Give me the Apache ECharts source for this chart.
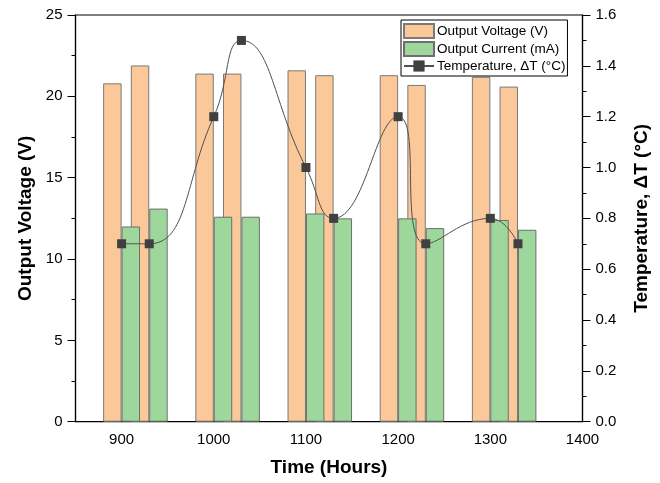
<!DOCTYPE html>
<html>
<head>
  <meta charset="UTF-8" />
  <title>output-vs-time</title>
  <style>
    * { margin: 0; padding: 0; }
    html, body { width: 660px; height: 483px; background: #fff; }
    #chart { width: 660px; height: 483px; }
  </style>
</head>
<body>
  <div id="chart"></div>
  <script src="https://cdn.jsdelivr.net/npm/echarts@6/dist/echarts.min.js"></script>
  <script>
    // values
    var times = [900, 930, 1000, 1030, 1100, 1130, 1200, 1230, 1300, 1330];
    var voltage = [20.8, 21.9, 21.4, 21.4, 21.6, 21.3, 21.3, 20.7, 21.2, 20.6];
    var current = [12.0, 13.1, 12.6, 12.6, 12.8, 12.5, 12.5, 11.9, 12.4, 11.8];
    var temperature = [0.7, 0.7, 1.2, 1.5, 1.0, 0.8, 1.2, 0.7, 0.8, 0.7];

    var font = 'Liberation Sans, Arial, sans-serif';
    var gridLeft = 75.5, gridRight = 77.5;
    var xMin = 850, xMax = 1400;
    // each bar is 20 hours wide on the x axis
    var barPx = (660 - gridLeft - gridRight) / (xMax - xMin) * 20;

    function pairs(ys) {
      return times.map(function (t, i) { return [t, ys[i]]; });
    }

    var axisCommon = {
      axisLine: { show: true, lineStyle: { color: '#000', width: 1.2 } },
      axisTick: { show: true, inside: false, length: 8, lineStyle: { color: '#000' } },
      minorTick: { show: true, splitNumber: 2, length: 4, lineStyle: { color: '#000' } },
      splitLine: { show: false },
      axisLabel: { color: '#000', fontSize: 15, fontFamily: font, margin: 13 },
      nameLocation: 'middle',
      nameRotate: 90,
      nameTextStyle: { color: '#000', fontSize: 19, fontWeight: 'bold', fontFamily: font }
    };

    var chart = echarts.init(document.getElementById('chart'));
    chart.setOption({
      animation: false,
      backgroundColor: '#fff',
      grid: {
        left: gridLeft, right: gridRight, top: 15, bottom: 61.3,
        show: true, borderColor: '#000', borderWidth: 1.2
      },
      legend: {
        orient: 'vertical',
        left: 401, top: 20,
        padding: [3, 2, 3, 2],
        itemGap: 2,
        itemWidth: 30, itemHeight: 14,
        borderColor: '#000', borderWidth: 1, borderRadius: 0,
        backgroundColor: '#fff',
        textStyle: { color: '#000', fontSize: 13.5, fontFamily: font, padding: [0, 0, 0, -2] },
        data: [
          { name: 'Output Voltage (V)', icon: 'rect' },
          { name: 'Output Current (mA)', icon: 'rect' },
          { name: 'Temperature, \u0394T (\u00b0C)' }
        ]
      },
      xAxis: {
        type: 'value',
        min: xMin, max: xMax, interval: 50,
        name: 'Time (Hours)',
        nameLocation: 'middle',
        nameGap: 37,
        nameTextStyle: { color: '#000', fontSize: 19, fontWeight: 'bold', fontFamily: font },
        axisLine: { show: true, onZero: false, lineStyle: { color: '#000', width: 1.2 } },
        axisTick: { show: false },
        splitLine: { show: false },
        axisLabel: {
          color: '#000', fontSize: 15, fontFamily: font, margin: 11,
          formatter: function (v) { return v % 100 === 0 ? String(v) : ''; }
        }
      },
      yAxis: [
        Object.assign({}, axisCommon, {
          type: 'value', min: 0, max: 25, interval: 5,
          name: 'Output Voltage (V)', nameGap: 40
        }),
        Object.assign({}, axisCommon, {
          type: 'value', min: 0, max: 1.6, interval: 0.2, position: 'right',
          name: 'Temperature, \u0394T (\u00b0C)', nameGap: 50,
          axisLabel: Object.assign({}, axisCommon.axisLabel, {
            formatter: function (v) { return v.toFixed(1); }
          })
        })
      ],
      series: [
        {
          name: 'Output Voltage (V)',
          type: 'bar',
          data: pairs(voltage),
          barWidth: barPx,
          barGap: '0%',
          itemStyle: { color: '#fbc899', borderColor: '#7a7a7a', borderWidth: 1 }
        },
        {
          name: 'Output Current (mA)',
          type: 'bar',
          data: pairs(current),
          barWidth: barPx,
          barGap: '0%',
          itemStyle: { color: '#9dd79b', borderColor: '#6e6e6e', borderWidth: 1 }
        },
        {
          name: 'Temperature, \u0394T (\u00b0C)',
          type: 'line',
          yAxisIndex: 1,
          data: pairs(temperature),
          smooth: 0.5,
          symbol: 'rect',
          symbolSize: 9,
          z: 5,
          lineStyle: { color: '#505050', width: 1 },
          itemStyle: { color: '#404040' }
        }
      ]
    });
  </script>
</body>
</html>
